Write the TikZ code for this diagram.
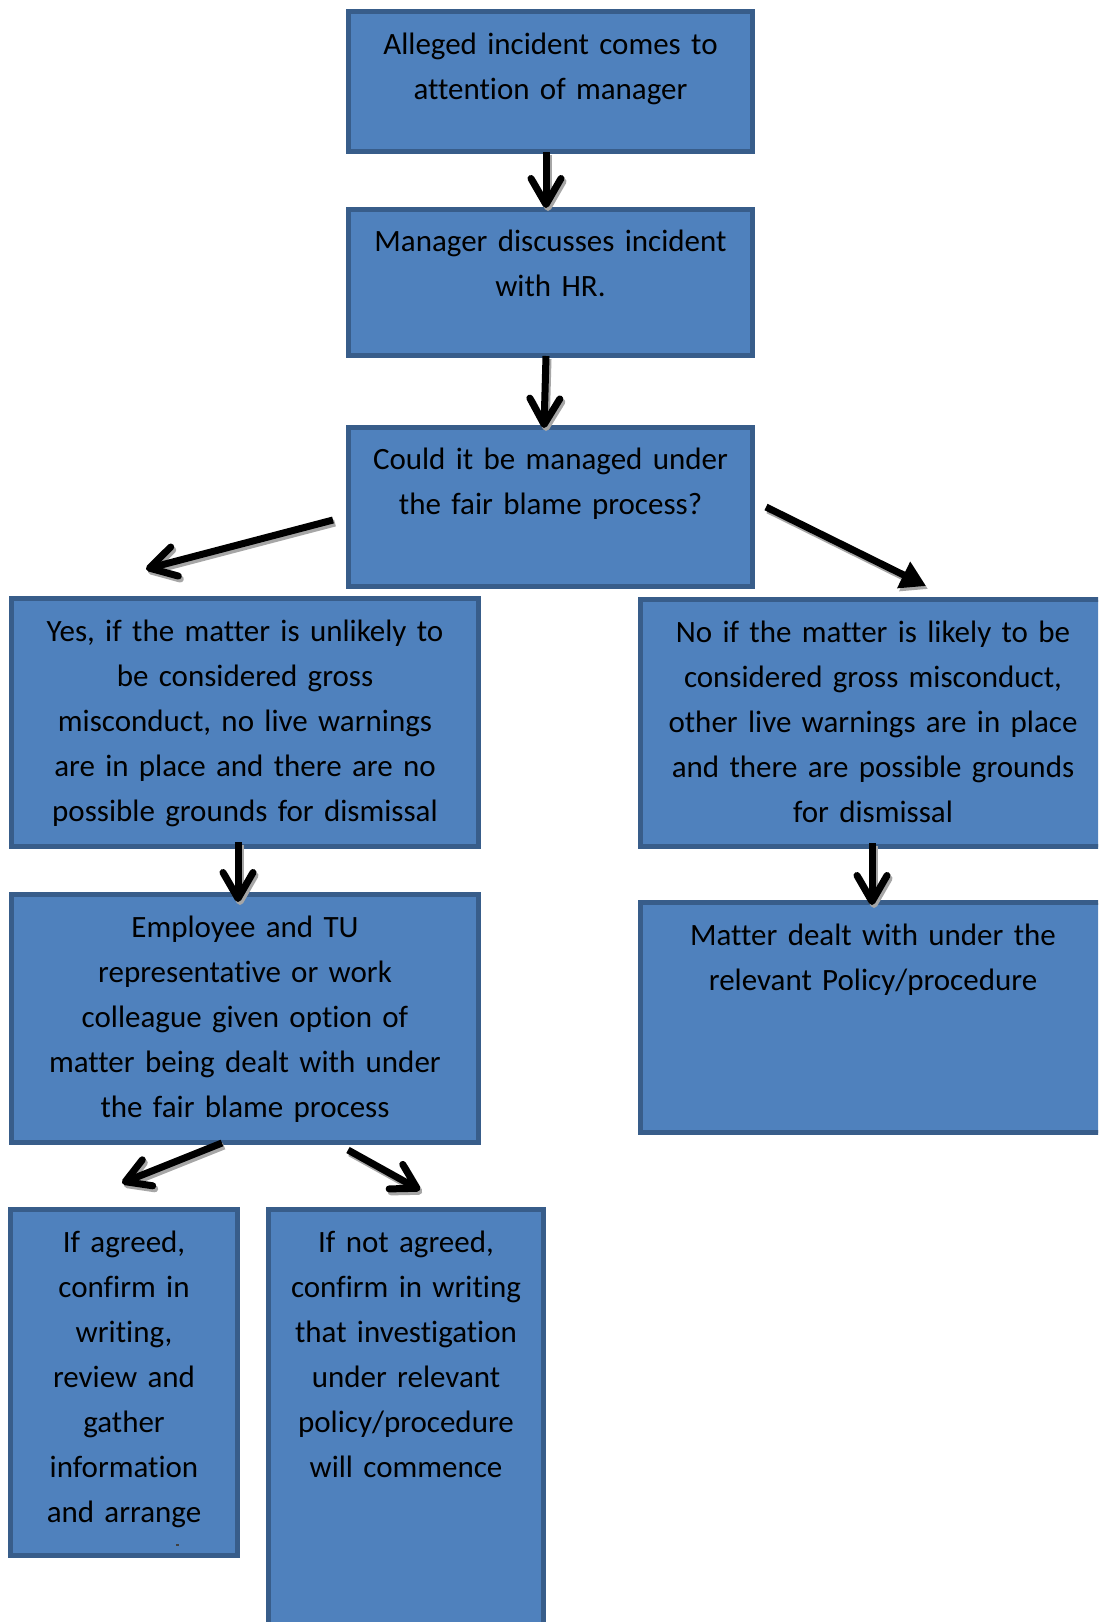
\documentclass[tikz,border=0pt]{standalone}
\usepackage{fontspec}
\setmainfont[Ligatures={NoCommon}]{Carlito}
\usetikzlibrary{arrows.meta,calc}
\definecolor{boxfill}{HTML}{4F81BD}
\definecolor{boxline}{HTML}{385D8A}
\definecolor{shadowgray}{HTML}{A6A6A6}
\newcommand\sarrow[3]{%
  \draw[#1, color=shadowgray] ([shift={(2,3)}]#2) -- ([shift={(2,3)}]#3);
  \draw[#1] (#2) -- (#3);}
\begin{document}
\begin{tikzpicture}[x=1pt,y=-1pt,
  box/.style={draw=boxline, fill=boxfill, line width=5pt, inner sep=0pt, outer sep=0pt, rectangle},
  txt/.style={align=center, inner sep=0pt, outer sep=0pt, anchor=base, text width=#1,
              font=\fontsize{31}{45}\selectfont},
  barb/.style={line width=7pt, color=black,
               -{Straight Barb[length=26pt,width=30pt,line width=7pt,round]}},
  smallbarb/.style={line width=7pt, color=black,
               -{Straight Barb[length=24pt,width=28pt,line width=7pt,round]}},
  tri/.style={line width=7pt, color=black,
               -{Triangle[length=25pt,width=28pt]}}
]
\useasboundingbox (0,0) rectangle (1098,1622);
\fill[white] (0,0) rectangle (1098,1622);
\clip (0,0) rectangle (1098,1622);

% boxes
\node[box, minimum width=404pt, minimum height=140pt] (b1) at (550.5,81.5) {};
\node[box, minimum width=404pt, minimum height=146pt] (b2) at (550.5,282.5) {};
\node[box, minimum width=404pt, minimum height=159pt] (b3) at (550.5,507) {};
\node[box, minimum width=467pt, minimum height=248pt] (b4) at (245,722.5) {};
\node[box, minimum width=465pt, minimum height=247pt] (b5) at (873,723) {};
\node[box, minimum width=467pt, minimum height=248pt] (b6) at (245,1018.5) {};
\node[box, minimum width=465pt, minimum height=230pt] (b7) at (873,1017.5) {};
\node[box, minimum width=227pt, minimum height=346pt] (b8) at (124,1382.5) {};
\node[box, minimum width=275pt, minimum height=448pt] (b9) at (406,1433.5) {};

% texts
\node[txt=400pt] (t1) at (550.5,54) {Alleged incident comes to\\attention of manager};
\node[txt=400pt] (t2) at (550.5,251) {Manager discusses incident\\with HR.};
\node[txt=400pt] (t3) at (550.5,469) {Could it be managed under\\the fair blame process?};
\node[txt=460pt] (t4) at (245,641) {Yes, if the matter is unlikely to\\be considered gross\\misconduct, no live warnings\\are in place and there are no\\possible grounds for dismissal};
\node[txt=460pt] (t5) at (873,642) {No if the matter is likely to be\\considered gross misconduct,\\other live warnings are in place\\and there are possible grounds\\for dismissal};
\node[txt=460pt] (t6) at (245,937) {Employee and TU\\representative or work\\colleague given option of\\matter being dealt with under\\the fair blame process};
\node[txt=460pt] (t7) at (873,945) {Matter dealt with under the\\relevant Policy/procedure};
\node[txt=225pt] (t8) at (124,1252) {If agreed,\\confirm in\\writing,\\review and\\gather\\information\\and arrange};
\node[txt=270pt] (t9) at (406,1252) {If not agreed,\\confirm in writing\\that investigation\\under relevant\\policy/procedure\\will commence};
\fill[black!75] (176,1544) rectangle (179,1546);

% arrow end points
\coordinate (a1s) at (546,152);  \coordinate (a1e) at (546,208);
\coordinate (a2s) at (546,356);  \coordinate (a2e) at (544,428);
\coordinate (a3s) at (333,520);  \coordinate (a3e) at (146,569);
\coordinate (a4s) at (766,507);  \coordinate (a4e) at (926,586);
\coordinate (a5s) at (238,842);  \coordinate (a5e) at (238,902);
\coordinate (a6s) at (872,843);  \coordinate (a6e) at (872,905);
\coordinate (a7s) at (222,1143); \coordinate (a7e) at (122,1183);
\coordinate (a8s) at (348,1150); \coordinate (a8e) at (420,1190);

\sarrow{barb}{a1s}{a1e}
\sarrow{barb}{a2s}{a2e}
\sarrow{barb}{a3s}{a3e}
\sarrow{tri}{a4s}{a4e}
\sarrow{barb}{a5s}{a5e}
\sarrow{barb}{a6s}{a6e}
\sarrow{smallbarb}{a7s}{a7e}
\sarrow{smallbarb}{a8s}{a8e}
\end{tikzpicture}
\end{document}
